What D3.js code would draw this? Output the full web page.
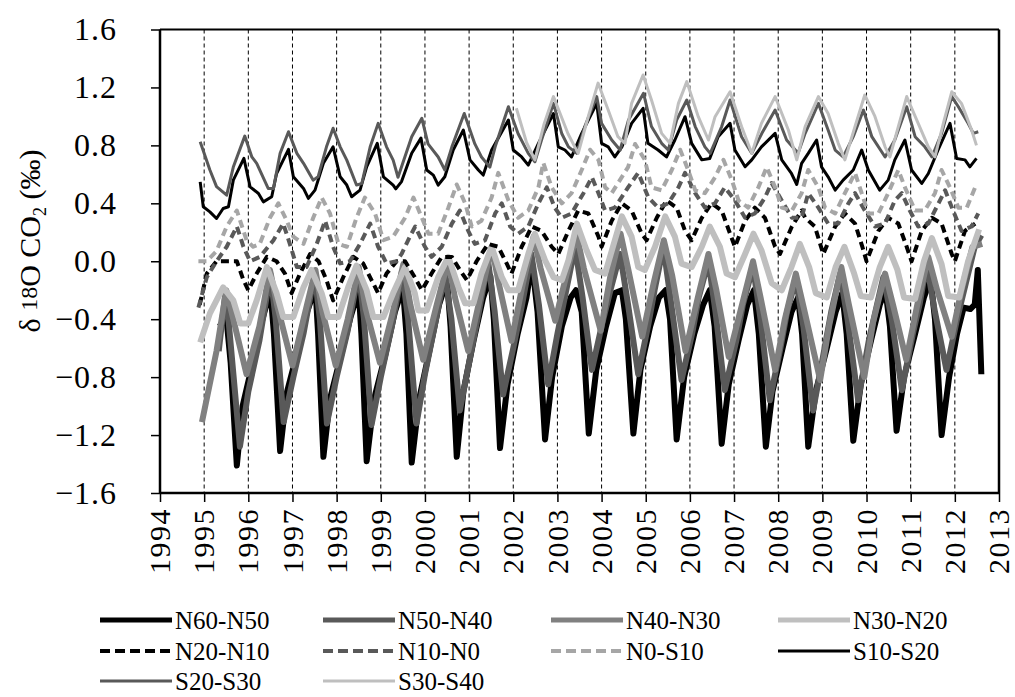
<!DOCTYPE html>
<html><head><meta charset="utf-8">
<script src="https://cdn.jsdelivr.net/npm/d3@7"></script>
<style>body{margin:0;background:#fff;} svg{display:block;}</style>
</head><body>
<svg id="chart" width="1015" height="697"></svg>
<script>
// ---------- data (decimal year, value) ----------
const seriesNames = ["N60-N50","N50-N40","N40-N30","N30-N20","N20-N10","N10-N0","N0-S10","S10-S20","S20-S30","S30-S40"];
const yTickValues = [1.6,1.2,0.8,0.4,0.0,-0.4,-0.8,-1.2,-1.6];
const xTickValues = [1994,1995,1996,1997,1998,1999,2000,2001,2002,2003,2004,2005,2006,2007,2008,2009,2010,2011,2012,2013];
const gridYears = [1995,1996,1997,1998,1999,2000,2001,2002,2003,2004,2005,2006,2007,2008,2009,2010,2011,2012];

const n60n50 = [[1995.35,-0.45],[1995.5,-0.38],[1995.6,-0.7],[1995.74,-1.41],[1995.87,-1.0],[1996.1,-0.7],[1996.32,-0.4],[1996.5,-0.2],[1996.58,-0.5],[1996.72,-1.31],[1996.87,-0.91],[1997.1,-0.64],[1997.32,-0.36],[1997.52,-0.18],[1997.58,-0.5],[1997.70,-1.35],[1997.85,-0.95],[1998.1,-0.65],[1998.32,-0.38],[1998.5,-0.2],[1998.56,-0.5],[1998.68,-1.38],[1998.85,-0.95],[1999.1,-0.65],[1999.32,-0.35],[1999.5,-0.18],[1999.58,-0.5],[1999.70,-1.39],[1999.87,-0.95],[2000.1,-0.62],[2000.32,-0.3],[2000.5,-0.13],[2000.58,-0.45],[2000.72,-1.35],[2000.87,-0.9],[2001.1,-0.55],[2001.32,-0.25],[2001.48,-0.1],[2001.56,-0.4],[2001.70,-1.29],[2001.87,-0.85],[2002.1,-0.5],[2002.3,-0.25],[2002.42,0.0],[2002.55,-0.35],[2002.72,-1.23],[2002.88,-0.8],[2003.1,-0.45],[2003.3,-0.25],[2003.42,-0.2],[2003.55,-0.35],[2003.71,-1.19],[2003.88,-0.75],[2004.1,-0.45],[2004.3,-0.22],[2004.46,-0.2],[2004.55,-0.4],[2004.72,-1.19],[2004.88,-0.75],[2005.1,-0.45],[2005.3,-0.25],[2005.45,-0.2],[2005.55,-0.4],[2005.70,-1.23],[2005.87,-0.8],[2006.1,-0.5],[2006.3,-0.3],[2006.45,-0.2],[2006.56,-0.45],[2006.72,-1.26],[2006.88,-0.85],[2007.1,-0.55],[2007.3,-0.3],[2007.45,-0.2],[2007.56,-0.5],[2007.72,-1.28],[2007.87,-0.9],[2008.1,-0.6],[2008.3,-0.35],[2008.45,-0.25],[2008.54,-0.5],[2008.68,-1.28],[2008.85,-0.9],[2009.1,-0.6],[2009.3,-0.35],[2009.45,-0.22],[2009.55,-0.5],[2009.70,-1.24],[2009.87,-0.85],[2010.1,-0.55],[2010.3,-0.3],[2010.43,-0.2],[2010.53,-0.45],[2010.68,-1.17],[2010.85,-0.8],[2011.1,-0.5],[2011.3,-0.25],[2011.45,-0.12],[2011.55,-0.4],[2011.70,-1.20],[2011.87,-0.8],[2012.05,-0.5],[2012.2,-0.32],[2012.35,-0.33],[2012.45,-0.3],[2012.52,-0.06],[2012.6,-0.78]];

const n50n40 = [[1995.33,-0.62],[1995.48,-0.22],[1995.55,-0.4],[1995.81,-1.28],[1996.0,-0.9],[1996.25,-0.55],[1996.5,-0.085],[1996.62,-0.4],[1996.8,-1.11],[1997.02,-0.8],[1997.25,-0.5],[1997.5,-0.085],[1997.62,-0.4],[1997.78,-1.12],[1998.0,-0.8],[1998.25,-0.48],[1998.5,-0.07],[1998.62,-0.4],[1998.79,-1.13],[1999.0,-0.8],[1999.25,-0.45],[1999.48,-0.07],[1999.62,-0.4],[1999.81,-1.12],[2000.0,-0.78],[2000.22,-0.45],[2000.45,-0.085],[2000.6,-0.4],[2000.79,-1.03],[2001.0,-0.7],[2001.22,-0.35],[2001.43,0.0],[2001.58,-0.35],[2001.77,-0.92],[2002.0,-0.6],[2002.2,-0.3],[2002.41,0.05],[2002.58,-0.3],[2002.79,-0.85],[2003.0,-0.5],[2003.2,-0.2],[2003.4,0.10],[2003.57,-0.25],[2003.78,-0.75],[2004.0,-0.45],[2004.2,-0.2],[2004.42,0.05],[2004.6,-0.3],[2004.83,-0.78],[2005.05,-0.45],[2005.2,-0.2],[2005.4,0.1],[2005.58,-0.3],[2005.81,-0.82],[2006.05,-0.5],[2006.2,-0.25],[2006.42,0.0],[2006.58,-0.35],[2006.79,-0.89],[2007.05,-0.55],[2007.2,-0.3],[2007.43,-0.04],[2007.6,-0.4],[2007.81,-0.96],[2008.05,-0.6],[2008.2,-0.35],[2008.4,-0.12],[2008.57,-0.45],[2008.79,-1.03],[2009.05,-0.6],[2009.2,-0.35],[2009.4,-0.085],[2009.57,-0.4],[2009.81,-0.96],[2010.05,-0.55],[2010.2,-0.35],[2010.38,-0.11],[2010.57,-0.4],[2010.8,-0.89],[2011.05,-0.5],[2011.2,-0.3],[2011.36,-0.015],[2011.55,-0.35],[2011.81,-0.75],[2012.05,-0.4],[2012.25,-0.15],[2012.45,0.1],[2012.6,0.18]];

const n40n30 = [[1994.95,-1.11],[1995.28,-0.62],[1995.5,-0.2],[1995.62,-0.35],[1995.96,-0.78],[1996.25,-0.45],[1996.49,-0.06],[1996.65,-0.3],[1997.0,-0.72],[1997.25,-0.4],[1997.52,-0.06],[1997.68,-0.35],[1997.98,-0.72],[1998.25,-0.4],[1998.5,-0.04],[1998.66,-0.33],[1998.98,-0.70],[1999.25,-0.38],[1999.51,-0.02],[1999.67,-0.3],[1999.96,-0.68],[2000.25,-0.32],[2000.52,0.0],[2000.68,-0.25],[2000.98,-0.62],[2001.25,-0.25],[2001.51,0.10],[2001.67,-0.15],[2001.96,-0.55],[2002.22,-0.15],[2002.46,0.17],[2002.62,-0.05],[2002.95,-0.41],[2003.2,-0.1],[2003.43,0.19],[2003.6,-0.05],[2003.98,-0.48],[2004.2,-0.1],[2004.43,0.19],[2004.6,-0.05],[2004.92,-0.52],[2005.18,-0.15],[2005.41,0.145],[2005.6,-0.1],[2005.9,-0.62],[2006.18,-0.25],[2006.42,0.05],[2006.6,-0.2],[2006.88,-0.66],[2007.18,-0.3],[2007.43,0.0],[2007.6,-0.25],[2007.93,-0.75],[2008.15,-0.4],[2008.4,-0.085],[2008.6,-0.35],[2008.95,-0.82],[2009.15,-0.45],[2009.43,-0.04],[2009.6,-0.3],[2009.95,-0.80],[2010.15,-0.42],[2010.42,-0.085],[2010.6,-0.3],[2010.9,-0.68],[2011.15,-0.3],[2011.4,0.03],[2011.6,-0.2],[2011.93,-0.52],[2012.15,-0.2],[2012.4,0.1],[2012.62,0.12]];

const n30n20 = [[1994.91,-0.56],[1995.13,-0.36],[1995.43,-0.18],[1995.66,-0.27],[1995.82,-0.43],[1996.0,-0.43],[1996.19,-0.27],[1996.42,-0.04],[1996.64,-0.22],[1996.79,-0.385],[1997.02,-0.385],[1997.25,-0.18],[1997.43,-0.06],[1997.66,-0.22],[1997.81,-0.385],[1998.04,-0.385],[1998.26,-0.18],[1998.45,-0.03],[1998.68,-0.20],[1998.83,-0.385],[1999.06,-0.385],[1999.28,-0.22],[1999.55,-0.04],[1999.77,-0.22],[1999.85,-0.34],[2000.04,-0.34],[2000.30,-0.11],[2000.53,0.03],[2000.76,-0.18],[2000.91,-0.29],[2001.10,-0.29],[2001.28,-0.085],[2001.51,0.10],[2001.74,-0.11],[2001.89,-0.20],[2002.11,-0.20],[2002.34,0.05],[2002.49,0.19],[2002.72,0.007],[2002.91,-0.11],[2003.10,-0.13],[2003.25,0.007],[2003.44,0.26],[2003.66,0.076],[2003.85,-0.06],[2004.08,-0.085],[2004.30,0.145],[2004.46,0.31],[2004.68,0.17],[2004.83,-0.04],[2004.98,-0.06],[2005.21,0.10],[2005.44,0.31],[2005.66,0.17],[2005.81,-0.016],[2006.04,-0.04],[2006.27,0.10],[2006.45,0.24],[2006.68,0.10],[2006.83,-0.085],[2007.02,-0.11],[2007.25,0.05],[2007.44,0.19],[2007.62,0.076],[2007.85,-0.15],[2008.08,-0.20],[2008.30,-0.04],[2008.49,0.12],[2008.7,-0.04],[2008.85,-0.22],[2009.1,-0.25],[2009.3,-0.04],[2009.5,0.10],[2009.72,-0.085],[2009.87,-0.24],[2010.1,-0.25],[2010.3,-0.04],[2010.49,0.10],[2010.7,-0.06],[2010.85,-0.25],[2011.1,-0.26],[2011.3,0.0],[2011.48,0.16],[2011.7,-0.02],[2011.85,-0.24],[2012.1,-0.25],[2012.3,0.0],[2012.55,0.22]];

const n20n10 = [[1994.9,-0.3],[1995.06,-0.085],[1995.28,0.0],[1995.51,0.0],[1995.74,0.0],[1995.89,-0.13],[1996.0,-0.2],[1996.19,-0.085],[1996.42,0.03],[1996.64,0.0],[1996.83,-0.085],[1996.98,-0.22],[1997.17,-0.085],[1997.40,0.05],[1997.59,0.0],[1997.77,-0.13],[1997.92,-0.27],[1998.15,-0.11],[1998.38,0.03],[1998.60,-0.015],[1998.79,-0.13],[1998.94,-0.22],[1999.13,-0.085],[1999.36,0.0],[1999.55,0.0],[1999.77,-0.11],[1999.93,-0.2],[2000.15,-0.085],[2000.38,0.03],[2000.61,0.03],[2000.79,-0.06],[2000.95,-0.13],[2001.17,0.0],[2001.43,0.12],[2001.66,0.10],[2001.85,-0.015],[2001.96,-0.085],[2002.19,0.10],[2002.42,0.24],[2002.64,0.21],[2002.87,0.10],[2003.02,0.05],[2003.25,0.21],[2003.47,0.35],[2003.70,0.33],[2003.93,0.17],[2004.0,0.1],[2004.23,0.28],[2004.46,0.40],[2004.68,0.35],[2004.91,0.19],[2005.02,0.145],[2005.25,0.30],[2005.47,0.42],[2005.70,0.37],[2005.89,0.21],[2006.04,0.145],[2006.27,0.30],[2006.49,0.40],[2006.72,0.35],[2006.91,0.19],[2007.02,0.10],[2007.25,0.28],[2007.47,0.37],[2007.70,0.30],[2007.93,0.10],[2008.04,0.05],[2008.31,0.24],[2008.53,0.35],[2008.61,0.30],[2008.83,0.24],[2009.02,0.05],[2009.29,0.24],[2009.51,0.33],[2009.74,0.26],[2009.93,0.076],[2010.00,0.0],[2010.27,0.21],[2010.49,0.30],[2010.72,0.26],[2010.91,0.10],[2011.02,0.0],[2011.25,0.21],[2011.48,0.30],[2011.70,0.26],[2011.93,0.05],[2012.00,0.0],[2012.23,0.21],[2012.46,0.26]];

const n10n0 = [[1994.87,-0.32],[1995.06,-0.11],[1995.28,0.0],[1995.51,0.10],[1995.74,0.24],[1995.89,0.10],[1996.04,0.0],[1996.26,0.03],[1996.57,0.145],[1996.79,0.26],[1996.94,0.12],[1997.10,-0.04],[1997.32,-0.04],[1997.55,0.12],[1997.74,0.28],[1997.92,0.10],[1998.08,-0.015],[1998.30,0.0],[1998.53,0.12],[1998.76,0.26],[1998.94,0.10],[1999.13,-0.015],[1999.36,0.0],[1999.47,0.05],[1999.66,0.17],[1999.78,0.24],[2000.00,0.10],[2000.15,0.03],[2000.38,0.10],[2000.61,0.26],[2000.79,0.35],[2000.98,0.21],[2001.13,0.12],[2001.36,0.145],[2001.59,0.33],[2001.74,0.40],[2001.93,0.24],[2002.11,0.19],[2002.34,0.24],[2002.57,0.40],[2002.76,0.51],[2002.94,0.37],[2003.10,0.30],[2003.32,0.33],[2003.59,0.47],[2003.78,0.58],[2003.93,0.47],[2004.08,0.35],[2004.30,0.37],[2004.60,0.51],[2004.83,0.61],[2005.06,0.44],[2005.28,0.37],[2005.51,0.40],[2005.74,0.51],[2005.89,0.61],[2006.12,0.47],[2006.34,0.37],[2006.57,0.40],[2006.79,0.51],[2007.02,0.42],[2007.25,0.30],[2007.47,0.33],[2007.70,0.44],[2007.85,0.54],[2008.08,0.42],[2008.31,0.30],[2008.53,0.30],[2008.68,0.47],[2008.91,0.37],[2009.13,0.26],[2009.36,0.26],[2009.59,0.40],[2009.74,0.47],[2009.96,0.35],[2010.19,0.24],[2010.42,0.26],[2010.64,0.42],[2010.80,0.47],[2010.98,0.35],[2011.17,0.24],[2011.40,0.26],[2011.63,0.40],[2011.78,0.49],[2011.96,0.35],[2012.15,0.21],[2012.38,0.24],[2012.53,0.33]];

const n0s10 = [[1994.87,0.0],[1995.06,0.0],[1995.28,0.07],[1995.51,0.24],[1995.74,0.35],[1995.96,0.145],[1996.11,0.10],[1996.26,0.12],[1996.49,0.30],[1996.68,0.40],[1996.87,0.28],[1997.02,0.17],[1997.25,0.12],[1997.47,0.30],[1997.66,0.44],[1997.85,0.33],[1998.04,0.12],[1998.23,0.10],[1998.45,0.30],[1998.64,0.44],[1998.87,0.33],[1999.06,0.145],[1999.28,0.17],[1999.55,0.30],[1999.74,0.44],[1999.93,0.30],[2000.08,0.19],[2000.30,0.19],[2000.53,0.37],[2000.72,0.53],[2000.91,0.40],[2001.06,0.24],[2001.28,0.28],[2001.51,0.44],[2001.66,0.61],[2001.89,0.42],[2002.11,0.30],[2002.34,0.35],[2002.57,0.51],[2002.68,0.68],[2002.87,0.51],[2003.10,0.40],[2003.32,0.47],[2003.55,0.63],[2003.74,0.77],[2003.93,0.70],[2004.08,0.51],[2004.23,0.47],[2004.60,0.65],[2004.76,0.81],[2004.98,0.70],[2005.13,0.51],[2005.36,0.49],[2005.59,0.63],[2005.78,0.77],[2005.96,0.63],[2006.12,0.49],[2006.34,0.47],[2006.57,0.58],[2006.76,0.70],[2006.95,0.56],[2007.10,0.42],[2007.32,0.37],[2007.55,0.51],[2007.74,0.65],[2007.93,0.51],[2008.08,0.37],[2008.31,0.35],[2008.53,0.47],[2008.68,0.63],[2008.91,0.51],[2009.06,0.37],[2009.29,0.33],[2009.51,0.47],[2009.74,0.61],[2009.89,0.47],[2010.04,0.33],[2010.27,0.33],[2010.49,0.47],[2010.72,0.63],[2010.87,0.51],[2011.10,0.35],[2011.32,0.35],[2011.55,0.47],[2011.70,0.63],[2011.89,0.51],[2012.08,0.37],[2012.27,0.37],[2012.46,0.51]];

const s10s20 = [[1994.91,0.548],[1994.98,0.376],[1995.13,0.341],[1995.28,0.295],[1995.43,0.364],[1995.55,0.376],[1995.66,0.56],[1995.90,0.71],[1996.04,0.514],[1996.23,0.468],[1996.34,0.41],[1996.53,0.445],[1996.64,0.606],[1996.91,0.772],[1997.02,0.583],[1997.25,0.503],[1997.36,0.434],[1997.51,0.491],[1997.70,0.676],[1997.92,0.79],[1998.08,0.583],[1998.23,0.526],[1998.34,0.445],[1998.53,0.491],[1998.68,0.652],[1998.92,0.814],[1999.06,0.583],[1999.28,0.526],[1999.34,0.50],[1999.47,0.55],[1999.70,0.745],[1999.91,0.85],[2000.04,0.63],[2000.19,0.595],[2000.30,0.526],[2000.45,0.583],[2000.64,0.768],[2000.87,0.906],[2001.02,0.70],[2001.21,0.63],[2001.32,0.595],[2001.51,0.768],[2001.89,0.975],[2002.00,0.768],[2002.19,0.72],[2002.34,0.664],[2002.57,0.814],[2002.91,1.02],[2003.02,0.79],[2003.17,0.768],[2003.32,0.72],[2003.55,0.883],[2003.89,1.09],[2004.00,0.814],[2004.15,0.79],[2004.30,0.72],[2004.46,0.79],[2004.68,0.952],[2004.94,1.056],[2005.05,0.814],[2005.28,0.768],[2005.47,0.72],[2005.66,0.837],[2005.89,0.998],[2006.04,0.814],[2006.27,0.70],[2006.45,0.71],[2006.64,0.86],[2006.91,0.952],[2007.02,0.768],[2007.25,0.652],[2007.40,0.70],[2007.62,0.79],[2007.93,0.883],[2008.08,0.70],[2008.30,0.606],[2008.42,0.53],[2008.53,0.676],[2008.68,0.745],[2008.87,0.837],[2008.98,0.652],[2009.13,0.583],[2009.29,0.491],[2009.47,0.56],[2009.70,0.63],[2009.89,0.768],[2010.04,0.63],[2010.30,0.491],[2010.49,0.56],[2010.64,0.70],[2010.87,0.837],[2011.02,0.63],[2011.25,0.537],[2011.40,0.606],[2011.62,0.768],[2011.89,0.952],[2012.04,0.71],[2012.23,0.70],[2012.34,0.652],[2012.49,0.71]];

const s20s30 = [[1994.91,0.825],[1995.13,0.63],[1995.28,0.515],[1995.51,0.456],[1995.66,0.65],[1995.92,0.864],[1996.08,0.72],[1996.19,0.676],[1996.45,0.503],[1996.57,0.503],[1996.72,0.745],[1996.91,0.894],[1997.10,0.745],[1997.25,0.676],[1997.47,0.56],[1997.58,0.583],[1997.77,0.79],[1997.92,0.918],[1998.08,0.79],[1998.23,0.698],[1998.45,0.526],[1998.57,0.537],[1998.76,0.79],[1998.94,0.952],[1999.13,0.79],[1999.28,0.698],[1999.39,0.58],[1999.70,0.86],[1999.93,0.987],[2000.07,0.81],[2000.30,0.72],[2000.45,0.63],[2000.61,0.79],[2000.89,1.02],[2001.13,0.81],[2001.28,0.72],[2001.47,0.65],[2001.59,0.79],[2001.89,1.067],[2002.11,0.88],[2002.34,0.745],[2002.49,0.687],[2002.64,0.837],[2002.91,1.09],[2003.10,0.88],[2003.25,0.79],[2003.44,0.745],[2003.62,0.93],[2003.89,1.137],[2004.00,0.952],[2004.23,0.837],[2004.42,0.768],[2004.61,0.975],[2004.95,1.16],[2005.13,0.93],[2005.36,0.814],[2005.51,0.768],[2005.70,0.975],[2005.93,1.113],[2006.12,0.93],[2006.34,0.79],[2006.46,0.745],[2006.72,0.93],[2006.91,1.113],[2007.17,0.86],[2007.40,0.745],[2007.63,0.883],[2007.93,1.044],[2008.19,0.837],[2008.45,0.745],[2008.61,0.883],[2008.91,1.09],[2009.13,0.906],[2009.29,0.768],[2009.47,0.72],[2009.70,0.86],[2009.93,1.044],[2010.12,0.86],[2010.42,0.72],[2010.64,0.837],[2010.91,1.067],[2011.10,0.86],[2011.32,0.79],[2011.48,0.72],[2011.70,0.883],[2011.93,1.137],[2012.08,1.067],[2012.30,0.952],[2012.42,0.883],[2012.53,0.894]];

const s30s40 = [[2002.07,1.056],[2002.30,0.82],[2002.49,0.70],[2002.70,0.95],[2002.91,1.137],[2003.24,0.88],[2003.47,0.745],[2003.70,1.0],[2003.92,1.23],[2004.15,1.044],[2004.37,0.86],[2004.53,0.814],[2004.68,1.09],[2004.94,1.286],[2005.13,1.113],[2005.36,0.883],[2005.55,0.814],[2005.74,1.09],[2005.93,1.24],[2006.19,0.998],[2006.42,0.837],[2006.57,0.998],[2006.91,1.17],[2007.17,0.93],[2007.40,0.745],[2007.62,0.952],[2007.93,1.137],[2008.23,0.906],[2008.42,0.70],[2008.61,0.93],[2008.91,1.137],[2009.13,1.02],[2009.36,0.814],[2009.51,0.70],[2009.74,0.93],[2009.96,1.148],[2010.19,1.0],[2010.42,0.79],[2010.53,0.72],[2010.72,0.93],[2010.91,1.137],[2011.17,0.952],[2011.40,0.79],[2011.55,0.72],[2011.74,0.952],[2011.93,1.17],[2012.15,1.09],[2012.38,0.906],[2012.49,0.80]];

const seriesData = [n60n50,n50n40,n40n30,n30n20,n20n10,n10n0,n0s10,s10s20,s20s30,s30s40];

// ---------- styles ----------
const styles = [
  {color:"#000000", width:6, dash:null},
  {color:"#595959", width:6, dash:null},
  {color:"#808080", width:6, dash:null},
  {color:"#bfbfbf", width:6, dash:null},
  {color:"#000000", width:4, dash:"8,5"},
  {color:"#595959", width:4, dash:"8,5"},
  {color:"#a6a6a6", width:4, dash:"8,5"},
  {color:"#000000", width:3, dash:null},
  {color:"#595959", width:3, dash:null},
  {color:"#bfbfbf", width:3, dash:null}
];

const svg = d3.select("#chart");
const FONT = "'Liberation Serif','Times New Roman',serif";
const L = 160, R = 999, T = 29.5, B = 493;
const x = d3.scaleLinear().domain([1994, 2013]).range([L, R]);
const y = d3.scaleLinear().domain([-1.6, 1.6]).range([B, T]);

// gridlines
svg.append("g").selectAll("line").data(gridYears).join("line")
  .attr("x1", d => x(d)).attr("x2", d => x(d))
  .attr("y1", T).attr("y2", B)
  .attr("stroke", "#000").attr("stroke-width", 1).attr("stroke-dasharray", "4,3");

// series
const lineGen = d3.line().x(d => x(d[0])).y(d => y(d[1]));
const gSeries = svg.append("g");
seriesData.forEach((data, i) => {
  const st = styles[i];
  gSeries.append("path").datum(data)
    .attr("d", lineGen)
    .attr("fill", "none")
    .attr("stroke", st.color)
    .attr("stroke-width", st.width)
    .attr("stroke-linejoin", "round")
    .attr("stroke-dasharray", st.dash);
});

// frame top/right
svg.append("line").attr("x1", L).attr("x2", R).attr("y1", T).attr("y2", T).attr("stroke", "#000").attr("stroke-width", 2);
svg.append("line").attr("x1", R).attr("x2", R).attr("y1", T).attr("y2", B).attr("stroke", "#000").attr("stroke-width", 2.5);

// y axis
const yAxis = svg.append("g").attr("transform", `translate(${L},0)`)
  .call(d3.axisLeft(y).tickValues(yTickValues).tickSize(9).tickPadding(34).tickFormat(d3.format(".1f")));
yAxis.select(".domain").attr("stroke-width", 2.5).attr("d", `M0,${T}V${B}`);
yAxis.selectAll(".tick line").attr("stroke-width", 1.5);
yAxis.selectAll("text").attr("font-family", FONT).attr("font-size", 32).attr("fill", "#000").attr("letter-spacing", 1);

// x axis
const xAxis = svg.append("g").attr("transform", `translate(0,${B})`)
  .call(d3.axisBottom(x).tickValues(xTickValues).tickSize(9).tickFormat(d3.format("d")));
xAxis.select(".domain").attr("stroke-width", 2.5).attr("d", `M${L},0H${R}`);
xAxis.selectAll(".tick line").attr("stroke-width", 1.5);
xAxis.selectAll("text")
  .attr("font-family", FONT).attr("font-size", 30).attr("fill", "#000")
  .attr("transform", "rotate(-90)")
  .attr("text-anchor", "end")
  .attr("x", -15).attr("y", 0).attr("dy", "0.32em")
  .attr("letter-spacing", 1.5);

// y title
const title = svg.append("text")
  .attr("transform", "translate(40,241) rotate(-90)")
  .attr("text-anchor", "middle")
  .attr("font-family", FONT).attr("font-size", 30).attr("fill", "#000");
title.append("tspan").text("δ ");
title.append("tspan").text("18").attr("font-size", 24).attr("dy", -3);
title.append("tspan").text("O CO").attr("dy", 3);
title.append("tspan").text("2").attr("font-size", 18).attr("dy", 6);
title.append("tspan").text(" (‰)").attr("dy", -6);

// legend
const legCols = [100, 323, 551, 778];
const legRows = [620, 651, 681];
const legStyles = [
  {color:"#000000", width:5, dash:null},
  {color:"#595959", width:5, dash:null},
  {color:"#808080", width:5, dash:null},
  {color:"#bfbfbf", width:5, dash:null},
  {color:"#000000", width:4, dash:"10,5"},
  {color:"#595959", width:4, dash:"10,5"},
  {color:"#a6a6a6", width:4, dash:"10,5"},
  {color:"#000000", width:3, dash:null},
  {color:"#595959", width:3, dash:null},
  {color:"#bfbfbf", width:3, dash:null}
];
const leg = svg.append("g");
seriesNames.forEach((name, i) => {
  const cx = legCols[i % 4], cy = legRows[Math.floor(i / 4)];
  const st = legStyles[i];
  leg.append("line").attr("x1", cx).attr("x2", cx + 72).attr("y1", cy).attr("y2", cy)
    .attr("stroke", st.color).attr("stroke-width", st.width).attr("stroke-dasharray", st.dash);
  leg.append("text").attr("x", cx + 75).attr("y", cy).attr("dy", "0.34em")
    .attr("font-family", FONT).attr("font-size", 25).attr("fill", "#000").text(name);
});
</script>
</body></html>
